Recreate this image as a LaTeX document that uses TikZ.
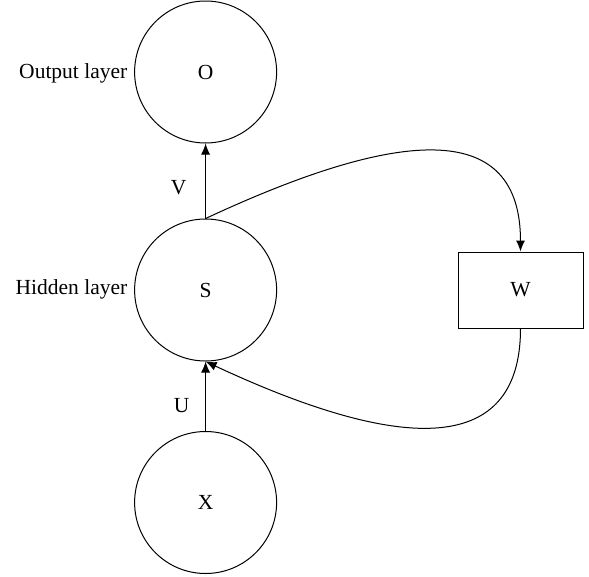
\documentclass[tikz,border=0pt]{standalone}
\usepackage{fontspec}
\setmainfont{Liberation Serif}
\usetikzlibrary{arrows.meta}
\begin{document}
\begin{tikzpicture}[x=1pt,y=-1pt,
  every node/.style={font=\fontsize{21.5}{25}\selectfont},
  neuron/.style={draw, circle, line width=1pt, minimum size=142pt, inner sep=0pt},
  memory/.style={draw, rectangle, line width=1pt, minimum width=125pt, minimum height=76pt, inner sep=0pt},
  conn/.style={line width=1pt, -{Latex[length=11pt,width=9pt]}}]
\useasboundingbox (0,0) rectangle (589,576);
\node[neuron] (O) at (205.6,72) {O};
\node[neuron] (S) at (205.6,290) {S};
\node[neuron] (X) at (205.6,502.5) {X};
\node[memory] (W) at (520.5,290) {W};
\node[anchor=east, inner sep=0pt] (lo) at (127.5,73) {Output layer};
\node[anchor=east, inner sep=0pt] (lh) at (127.5,289) {Hidden layer};
\node (lv) at (178.7,187.3) {V};
\node (lu) at (181.7,405.5) {U};
\draw[conn] (S.north) -- (O.south);
\draw[conn] (X.north) -- (S.south);
\draw[conn] (S.north) .. controls +(199.4,-93) and +(0,-130) .. (W.north);
\draw[conn] (W.south) .. controls +(0,110) and +(226.6,105.7) .. (S.south);
\end{tikzpicture}
\end{document}
